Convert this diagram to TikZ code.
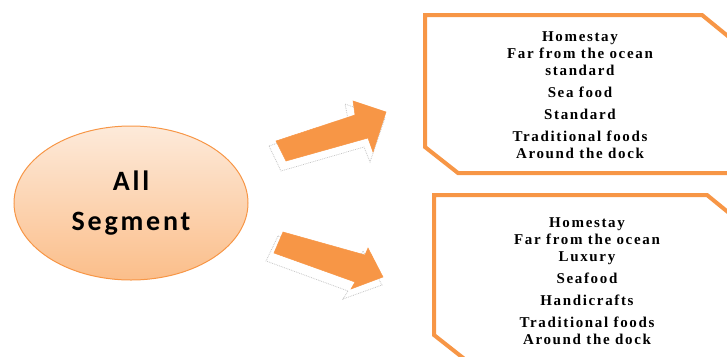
\documentclass[tikz,border=0pt]{standalone}
\usepackage{fontspec}
\setmainfont{Liberation Serif}
\newfontfamily\segfont[LetterSpace=10]{Carlito}
\newfontfamily\listfont[LetterSpace=11]{Liberation Serif}
\usetikzlibrary{shapes.geometric}
\usetikzlibrary{positioning}

\definecolor{segorange}{HTML}{F79646}
\definecolor{seglight}{HTML}{FDEADA}
\definecolor{segdark}{HTML}{FBBE8A}

\tikzset{
  segment/.style={ellipse, draw=segorange, line width=1pt, top color=seglight, bottom color=segdark,
    minimum width=234pt, minimum height=154pt, align=center,
    font=\segfont\bfseries\fontsize{28}{40}\selectfont},
  snipbox/.style={draw=segorange, line width=4pt, line join=miter},
  listtext/.style={align=center, font=\listfont\bfseries\fontsize{15}{17}\selectfont},
  blockarrow/.style={fill=segorange, draw=segorange, line width=0.5pt, line join=miter},
  arrowshade/.style={draw=gray!45, densely dotted, line width=0.8pt, fill=white}
}

\begin{document}
\begin{tikzpicture}[x=1pt,y=-1pt]
    \useasboundingbox (0,0) rectangle (727,356);
    \clip (0,0) rectangle (727,356);
    % Place nodes
    \node [segment] (seg) at (131,203) {All\\Segment};

    \draw [snipbox] (425,15) -- (702,15) -- (740,46) -- (740,173) -- (458,173) -- (425,147) -- cycle;
    \draw [snipbox] (434,195) -- (707,195) -- (745,226) -- (745,361) -- (467,361) -- (434,335) -- cycle;

    \node [listtext] (stdlist) at (580,95) {Homestay\\Far from the ocean\\standard\\[5pt]Sea food\\[5pt]Standard\\[5pt]Traditional foods\\Around the dock};
    \node [listtext] (luxlist) at (587,281) {Homestay\\Far from the ocean\\Luxury\\[5pt]Seafood\\[5pt]Handicrafts\\[5pt]Traditional foods\\Around the dock};

    % block arrows
    \draw [arrowshade, shift={(-5,7)}] (274,139) -- (353,112) -- (350,97) -- (390,111) -- (375,155) -- (369,140) -- (286,164) -- cycle;
    \draw [blockarrow] (276,141) -- (355,115) -- (353,101) -- (386,112) -- (373,152) -- (368,138) -- (286,161) -- cycle;

    \draw [arrowshade, shift={(-5,7)}] (283,229) -- (364,252) -- (368,244) -- (387,278) -- (348,292) -- (353,284) -- (271,254) -- cycle;
    \draw [blockarrow] (283,232) -- (365,255) -- (368,248) -- (383,277) -- (351,289) -- (355,282) -- (274,253) -- cycle;
\end{tikzpicture}
\end{document}
